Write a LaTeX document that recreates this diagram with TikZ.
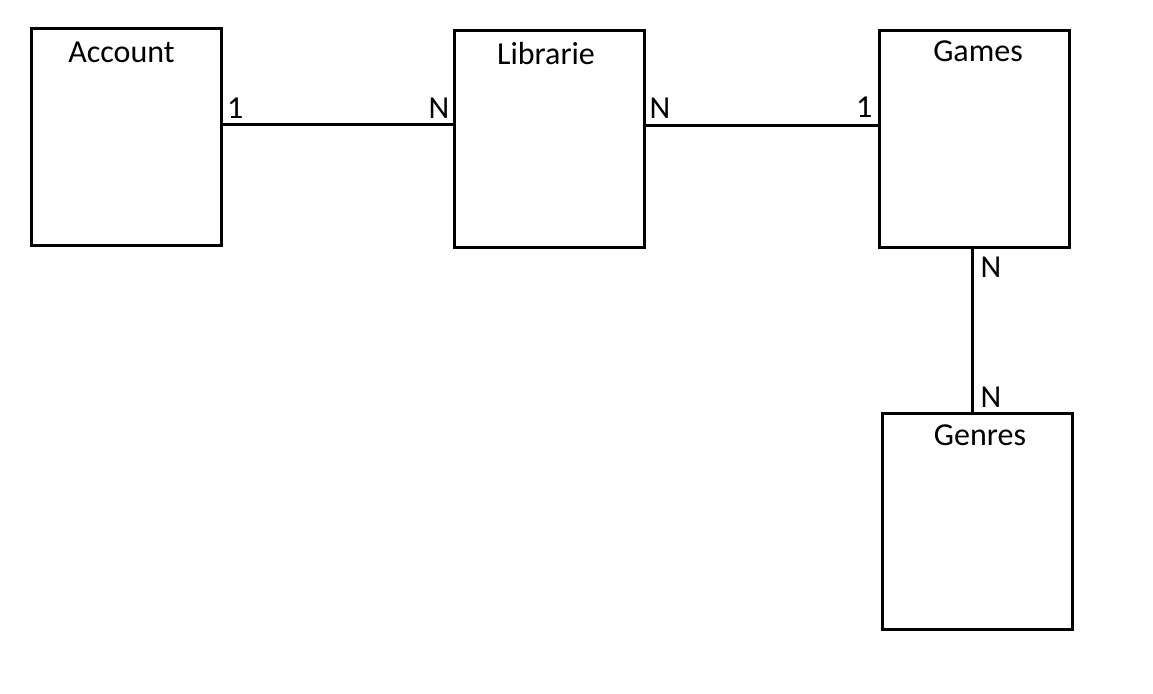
\documentclass[tikz,border=0pt]{standalone}
\usepackage{fontspec}
\setmainfont{Carlito}
\begin{document}
\begin{tikzpicture}[x=1pt,y=-1pt,
  entity/.style={draw,line width=3pt,rectangle,inner sep=0pt,minimum width=190pt,minimum height=216pt},
  title/.style={anchor=base,inner sep=0pt,font=\fontsize{32}{38}\selectfont},
  card/.style={anchor=base west,inner sep=0pt,font=\fontsize{32}{38}\selectfont},
  conn/.style={line width=3pt}]
\useasboundingbox (0,0) rectangle (1153,693);
\fill[white] (0,0) rectangle (1153,693);
\node[entity] (acc) at (126,137) {};
\node[entity] (lib) at (549.5,139) {};
\node[entity] (gam) at (974,139) {};
\node[entity] (gen) at (977,521) {};
\node[title] (tacc) at (121.5,63) {Account};
\node[title] (tlib) at (546,65) {Librarie};
\node[title] (tgam) at (978,61) {Games};
\node[title] (tgen) at (980,445) {Genres};
\coordinate (a1) at ([yshift=13pt]acc.east);
\draw[conn] (a1) -- (a1 -| lib.west);
\coordinate (b1) at ([yshift=14pt]lib.east);
\draw[conn] (b1) -- (b1 -| gam.west);
\coordinate (c1) at ([xshift=-1.5pt]gam.south);
\draw[conn] (c1) -- (c1 |- gen.north);
\node[card] (l1) at (227,118) {1};
\node[card] (l2) at (428.5,118) {N};
\node[card] (l3) at (649.5,118) {N};
\node[card] (l4) at (856,117) {1};
\node[card] (l5) at (980.5,277) {N};
\node[card] (l6) at (980.5,407) {N};
\end{tikzpicture}
\end{document}
